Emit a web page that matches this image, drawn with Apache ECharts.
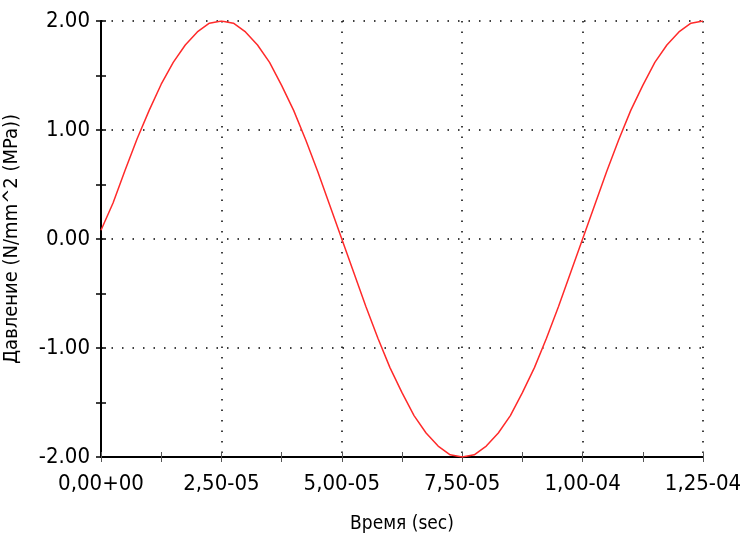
<!DOCTYPE html>
<html><head><meta charset="utf-8">
<script src="https://cdn.jsdelivr.net/npm/echarts@6/dist/echarts.min.js"></script>
<style>html,body{margin:0;padding:0;background:#fff}#c{width:740px;height:534px}</style>
</head><body><div id="c"></div>
<script>
var timeStep = 2.5e-6;
var pressure = [0.08, 0.33, 0.63, 0.92, 1.18, 1.42, 1.62, 1.78, 1.90, 1.98, 2.00,
  1.98, 1.90, 1.78, 1.62, 1.41, 1.18, 0.91, 0.62, 0.31, 0.00,
  -0.31, -0.62, -0.91, -1.18, -1.41, -1.62, -1.78, -1.90, -1.98, -2.00,
  -1.98, -1.90, -1.78, -1.62, -1.41, -1.18, -0.91, -0.62, -0.31, 0.00,
  0.31, 0.62, 0.91, 1.18, 1.41, 1.62, 1.78, 1.90, 1.98, 2.00];
var xTickLabels = ["0,00+00", "2,50-05", "5,00-05", "7,50-05", "1,00-04", "1,25-04"];
var yTickLabels = ["-2.00", "-1.00", "0.00", "1.00", "2.00"];
var xTitle = "Время (sec)";
var yTitle = "Давление (N/mm^2 (MPa))";

var FONT = '"Liberation Sans Narrow", "DejaVu Sans Condensed", "Liberation Sans", sans-serif';
var data = pressure.map(function (v, i) { return [i * timeStep, v]; });
var xInt = 2.5e-5;

function xAxisDef(inside, main) {
  return {
    type: 'value', min: 0, max: 1.25e-4, interval: xInt,
    position: 'bottom',
    axisLine: { show: main, onZero: false, lineStyle: { color: '#000', width: 2 } },
    axisTick: { show: true, inside: inside, length: 5, lineStyle: { color: '#555', width: 1 } },
    minorTick: { show: true, splitNumber: 2, length: 5, lineStyle: { color: '#555', width: 1 } },
    axisLabel: main ? {
      show: true, color: '#000', fontFamily: FONT, fontSize: 22, margin: 16,
      formatter: function (v) { return xTickLabels[Math.round(v / xInt)]; }
    } : { show: false },
    splitLine: main ? { show: true, lineStyle: { color: '#000', width: 1.5, type: [1.5, 9] } } : { show: false },
    name: main ? xTitle : '', nameLocation: 'middle', nameGap: 58,
    nameTextStyle: { color: '#000', fontFamily: FONT, fontSize: 19 }
  };
}
function yAxisDef(inside, main) {
  return {
    type: 'value', min: -2, max: 2, interval: 1,
    position: 'left',
    axisLine: { show: main, onZero: false, lineStyle: { color: '#000', width: 2 } },
    axisTick: { show: true, inside: inside, length: 5, lineStyle: { color: '#000', width: 1.5 } },
    minorTick: { show: true, splitNumber: 2, length: 5, lineStyle: { color: '#000', width: 1.5 } },
    axisLabel: main ? {
      show: true, color: '#000', fontFamily: FONT, fontSize: 22, margin: 11,
      formatter: function (v) { return yTickLabels[Math.round(v + 2)]; }
    } : { show: false },
    splitLine: main ? { show: true, lineStyle: { color: '#000', width: 1.5, type: [1.5, 9] } } : { show: false },
    name: main ? yTitle : '', nameLocation: 'middle', nameGap: 79, nameRotate: 90,
    nameTextStyle: { color: '#000', fontFamily: FONT, fontSize: 20 }
  };
}

var chart = echarts.init(document.getElementById('c'));
chart.setOption({
  backgroundColor: '#fff',
  animation: false,
  grid: { left: 101, right: 37, top: 21, bottom: 77, containLabel: false, outerBoundsMode: 'none' },
  xAxis: [xAxisDef(false, true), xAxisDef(true, false)],
  yAxis: [yAxisDef(false, true), yAxisDef(true, false)],
  series: [{
    type: 'line', data: data, xAxisIndex: 0, yAxisIndex: 0,
    showSymbol: false, smooth: false,
    lineStyle: { color: '#ff2a2a', width: 1.5 }
  }]
});
</script></body></html>
